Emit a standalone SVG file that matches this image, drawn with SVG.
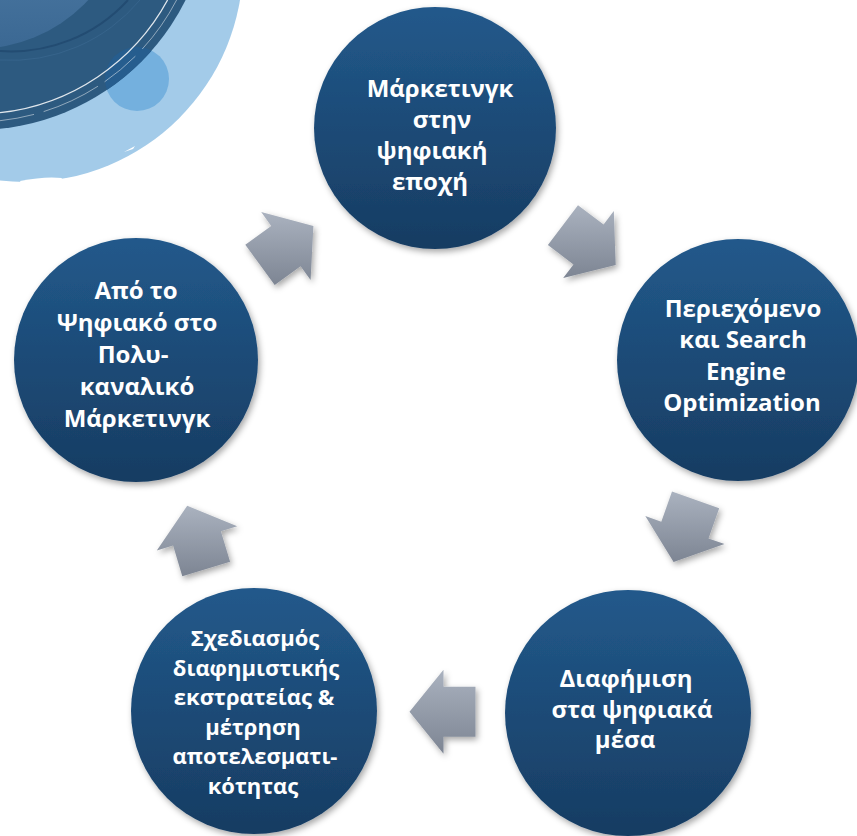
<svg xmlns="http://www.w3.org/2000/svg" width="857" height="836" viewBox="0 0 857 836">
  <defs>
    <linearGradient id="gCircle" x1="0" y1="0" x2="0" y2="1">
      <stop offset="0" stop-color="#22598b"/>
      <stop offset="1" stop-color="#173c62"/>
    </linearGradient>
    <linearGradient id="gArrow" x1="0" y1="0" x2="0" y2="1">
      <stop offset="0" stop-color="#aab2bf"/>
      <stop offset="1" stop-color="#7d8593"/>
    </linearGradient>
    <linearGradient id="gInner" x1="0" y1="0" x2="0" y2="1">
      <stop offset="0" stop-color="#6b98c0"/>
      <stop offset="1" stop-color="#3b6893"/>
    </linearGradient>
    <filter id="shadow" x="-20%" y="-20%" width="140%" height="140%">
      <feDropShadow dx="2" dy="3" stdDeviation="3" flood-color="#000" flood-opacity="0.35"/>
    </filter>
    <clipPath id="darkClip">
      <circle cx="-24" cy="-104" r="234"/>
    </clipPath>
  </defs>
  <style>
    .node circle { fill: url(#gCircle); filter: url(#shadow); }
    .node text { fill: #ffffff; font-family: "Open Sans", "Noto Sans", "DejaVu Sans", sans-serif; font-weight: bold; font-size: 24px; text-anchor: middle; }
    #node-4 text { font-size: 22px; }
    .arrow { fill: url(#gArrow); filter: url(#shadow); }
  </style>

  <rect x="0" y="0" width="857" height="836" fill="#ffffff"/>

  <!-- decoration top-left -->
  <g id="decoration">
    <circle cx="25" cy="-36" r="218" fill="#a3cbe9"/>
    <path d="M20,181 Q45,176 62,178 L60,182 Q40,184 22,185 Z" fill="#ffffff"/>
    <path d="M90,176 L108,170 L106,173 Z" fill="#ffffff"/>
    <path d="M124,152 L135,146 L133,149 Z" fill="#ffffff"/>
    <circle cx="137" cy="79" r="32" fill="#74b0de"/>
    <circle cx="-24" cy="-104" r="234" fill="#2d5a80"/>
    <circle cx="137" cy="79" r="32" fill="#265d8e" clip-path="url(#darkClip)"/>
    <circle cx="-24" cy="-104" r="153" fill="url(#gInner)"/>
    <path d="M128,0 A158,158 0 0 1 0,51" fill="none" stroke="#234c72" stroke-width="2"/>
    <path d="M140,0 A168,168 0 0 1 0,60" fill="none" stroke="#3a6890" stroke-width="1" opacity="0.7"/>
    <path d="M167.6,0 A218,218 0 0 1 0,112.7" fill="none" stroke="#ffffff" stroke-width="1.3" opacity="0.85"/>
    <path d="M176.6,0 A226,226 0 0 1 0,120.7" fill="none" stroke="#ffffff" stroke-width="0.8" opacity="0.6" stroke-dasharray="60 10 40 8"/>
  </g>

  <!-- connectors (block arrows) -->
  <g id="connectors">
    <polygon class="arrow" points="245.3,244.7 271.2,225.9 261.2,212.1 313.4,226.1 310.6,280.1 300.6,266.3 274.7,285.1"/>
    <polygon class="arrow" points="578.0,205.2 603.6,224.4 613.8,210.9 615.7,264.9 563.2,277.9 573.5,264.4 547.9,245.1"/>
    <polygon class="arrow" points="719.2,508.2 708.5,538.4 724.5,544.1 673.6,562.1 645.3,516.1 661.3,521.8 672.0,491.6"/>
    <polygon class="arrow" points="475.5,736.7 443.5,736.7 443.5,753.7 409.5,711.7 443.5,669.7 443.5,686.7 475.5,686.7"/>
    <polygon class="arrow" points="182.3,576.2 173.1,545.6 156.8,550.4 187.2,505.8 237.2,526.3 220.9,531.2 230.1,561.8"/>
  </g>

  <!-- nodes -->
  <g id="node-1" class="node">
    <circle cx="435" cy="128" r="121"/>
    <text x="440" y="97">Μάρκετινγκ</text>
    <text x="442" y="128">στην</text>
    <text x="432" y="159">ψηφιακή</text>
    <text x="430" y="190">εποχή</text>
  </g>
  <g id="node-2" class="node">
    <circle cx="738" cy="360" r="121"/>
    <text x="743" y="317">Περιεχόμενο</text>
    <text x="743" y="348">και Search</text>
    <text x="746" y="380">Engine</text>
    <text x="742" y="411">Optimization</text>
  </g>
  <g id="node-3" class="node">
    <circle cx="628" cy="713" r="123"/>
    <text x="626" y="687">Διαφήμιση</text>
    <text x="632" y="718">στα ψηφιακά</text>
    <text x="625" y="748">μέσα</text>
  </g>
  <g id="node-4" class="node">
    <circle cx="254" cy="711" r="123"/>
    <text x="255" y="646">Σχεδιασμός</text>
    <text x="256" y="676">διαφημιστικής</text>
    <text x="254" y="705">εκστρατείας &amp;</text>
    <text x="253" y="735">μέτρηση</text>
    <text x="255" y="764">αποτελεσματι-</text>
    <text x="253" y="794">κότητας</text>
  </g>
  <g id="node-5" class="node">
    <circle cx="136" cy="360" r="122"/>
    <text x="136" y="299">Από το</text>
    <text x="137" y="331">Ψηφιακό στο</text>
    <text x="133" y="363">Πολυ-</text>
    <text x="137" y="395">καναλικό</text>
    <text x="137" y="427">Μάρκετινγκ</text>
  </g>
</svg>
